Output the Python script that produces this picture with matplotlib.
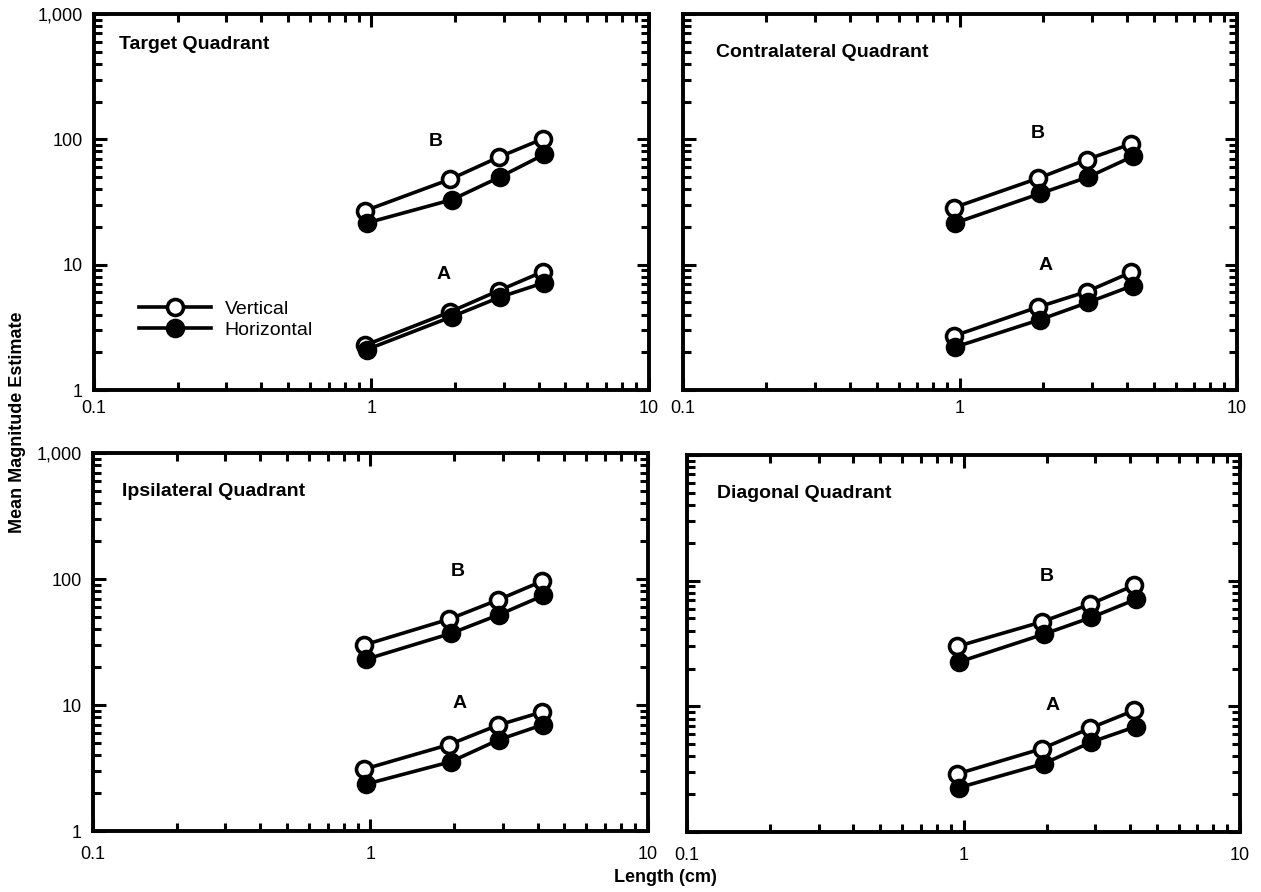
import matplotlib
matplotlib.use("Agg")
import matplotlib.pyplot as plt
from matplotlib.ticker import FixedLocator, FixedFormatter, LogLocator, NullFormatter

plt.rcParams["font.family"] = ["Liberation Sans", "DejaVu Sans"]

# stimulus lengths (cm)
length_v = [0.95, 1.92, 2.87, 4.15]
length_h = [0.96, 1.95, 2.90, 4.20]

panels = ["Target Quadrant", "Contralateral Quadrant", "Ipsilateral Quadrant", "Diagonal Quadrant"]

# mean magnitude estimates, condition B (upper) and A (lower)
b_vert = [[27, 48, 72, 101], [28.5, 49, 69, 92], [30, 48, 68, 96], [30, 47, 65, 92]]
b_horz = [[21.5, 33, 50, 76], [21.5, 37, 50, 73], [23, 37, 52, 74], [22.5, 37.5, 51, 71]]
a_vert = [[2.28, 4.2, 6.2, 8.8], [2.7, 4.6, 6.1, 8.7], [3.1, 4.85, 6.9, 8.8], [2.9, 4.6, 6.7, 9.3]]
a_horz = [[2.1, 3.85, 5.5, 7.2], [2.2, 3.65, 5.0, 6.8], [2.35, 3.55, 5.3, 7.0], [2.25, 3.5, 5.2, 6.9]]

x_ticks = [0.1, 1, 10]
x_ticklabels = ["0.1", "1", "10"]
y_ticks = [1, 10, 100, 1000]
y_ticklabels = ["1", "10", "100", "1,000"]

W, H = 1261, 892
fig = plt.figure(figsize=(W / 100, H / 100), dpi=100)

# axes boxes in pixels: left, top, right, bottom
boxes = [(94, 14, 649, 390), (683, 14, 1237, 390), (93, 453, 648, 831), (687, 455, 1240, 832)]
title_pos = [(0.045, 0.918), (0.059, 0.897), (0.053, 0.897), (0.054, 0.898)]
b_pos = [(0.616, 0.66), (0.641, 0.683), (0.658, 0.687), (0.651, 0.678)]
a_pos = [(0.629, 0.308), (0.654, 0.330), (0.660, 0.337), (0.661, 0.336)]

lw = 2.6
for i, (l, t, r, b) in enumerate(boxes):
    ax = fig.add_axes([l / W, 1 - b / H, (r - l) / W, (b - t) / H])
    ax.set_xscale("log")
    ax.set_yscale("log")
    ax.set_xlim(0.1, 10)
    ax.set_ylim(1, 1000)

    kw_v = dict(color="black", lw=lw, marker="o", ms=11.5, mfc="white", mec="black", mew=2.6, zorder=3)
    kw_h = dict(color="black", lw=lw, marker="o", ms=11.5, mfc="black", mec="black", mew=2.6, zorder=4)
    ax.plot(length_v, b_vert[i], **kw_v, label="Vertical")
    ax.plot(length_h, b_horz[i], **kw_h, label="Horizontal")
    ax.plot(length_v, a_vert[i], **kw_v)
    ax.plot(length_h, a_horz[i], **kw_h)

    ax.text(*title_pos[i], panels[i], transform=ax.transAxes, fontsize=14,
            fontweight="bold", ha="left", va="center")
    ax.text(*b_pos[i], "B", transform=ax.transAxes, fontsize=14, fontweight="bold", ha="center", va="center")
    ax.text(*a_pos[i], "A", transform=ax.transAxes, fontsize=14, fontweight="bold", ha="center", va="center")

    ax.xaxis.set_major_locator(FixedLocator(x_ticks))
    ax.xaxis.set_major_formatter(FixedFormatter(x_ticklabels))
    ax.yaxis.set_major_locator(FixedLocator(y_ticks))
    if i in (0, 2):
        ax.yaxis.set_major_formatter(FixedFormatter(y_ticklabels))
    else:
        ax.yaxis.set_major_formatter(NullFormatter())
    for a in (ax.xaxis, ax.yaxis):
        a.set_minor_locator(LogLocator(base=10, subs=range(2, 10)))
        a.set_minor_formatter(NullFormatter())

    ax.tick_params(which="both", direction="in", top=True, right=True, width=2.2, labelsize=13)
    ax.tick_params(which="major", length=9)
    ax.tick_params(which="minor", length=5.5)
    ax.tick_params(axis="x", which="major", pad=7 if i < 2 else 11)
    ax.tick_params(axis="y", which="major", pad=8)
    for s in ax.spines.values():
        s.set_linewidth(2.8)

    if i == 0:
        ax.legend(loc="lower left", bbox_to_anchor=(0.081, 0.135), frameon=False, fontsize=14,
                  handlelength=3.7, handletextpad=0.7, labelspacing=0.2, borderpad=0, borderaxespad=0)

fig.text(18 / W, 1 - 422 / H, "Mean Magnitude Estimate", rotation=90, fontsize=13,
         fontweight="bold", ha="center", va="center")
fig.text(665 / W, 1 - 878 / H, "Length (cm)", fontsize=13, fontweight="bold", ha="center", va="center")

fig.savefig("out.png", dpi=100, facecolor="white")
